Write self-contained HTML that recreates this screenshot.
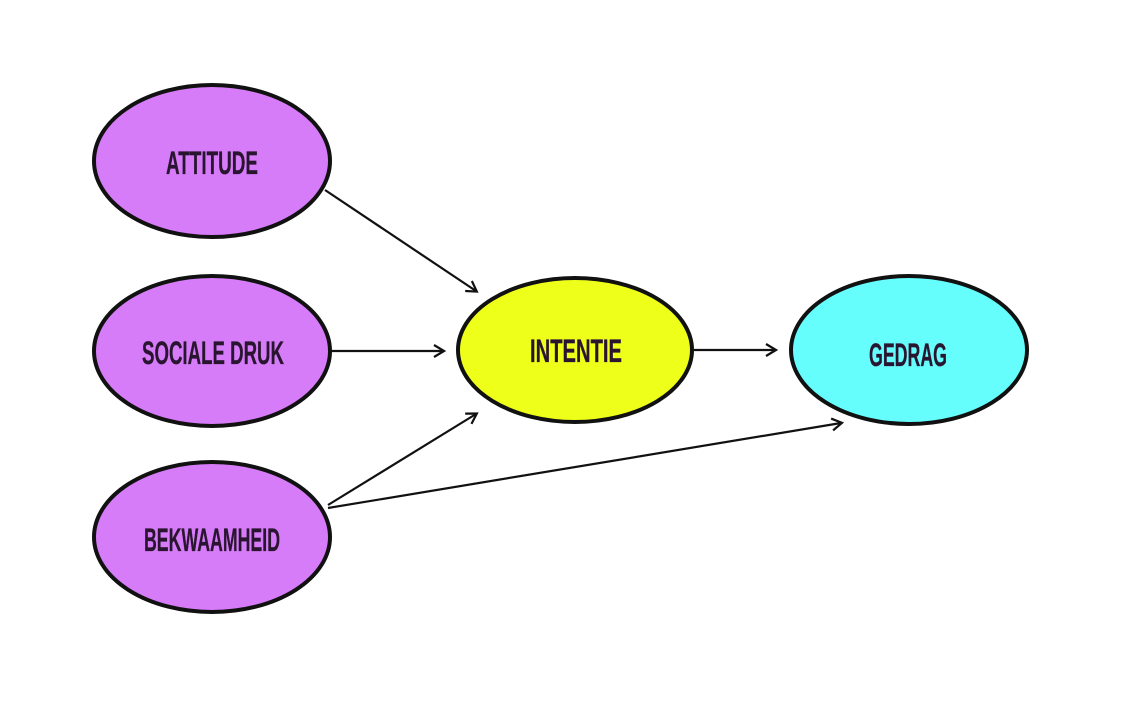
<!DOCTYPE html>
<html><head><style>body{margin:0;background:#fff}svg{display:block}</style></head>
<body>
<svg width="1134" height="701" viewBox="0 0 1134 701" xmlns="http://www.w3.org/2000/svg">
<defs><marker id="a" markerWidth="14" markerHeight="14" refX="11" refY="7" orient="auto" markerUnits="userSpaceOnUse"><path d="M2,1 L12,7 L2,13" fill="none" stroke="#111" stroke-width="2.2"/></marker></defs>
<g stroke="#111" stroke-width="2.2" marker-end="url(#a)">
<line x1="325" y1="190" x2="476" y2="291"/>
<line x1="330" y1="351" x2="443" y2="351"/>
<line x1="328" y1="505" x2="476" y2="414"/>
<line x1="328" y1="508" x2="841" y2="423"/>
<line x1="694" y1="350" x2="775" y2="350"/>
</g>
<g stroke="#111" stroke-width="4">
<ellipse cx="212" cy="161" rx="118" ry="76" fill="#d67cf8"/>
<ellipse cx="212" cy="351" rx="118" ry="75" fill="#d67cf8"/>
<ellipse cx="212" cy="537" rx="118" ry="75" fill="#d67cf8"/>
<ellipse cx="575" cy="350" rx="117" ry="72" fill="#eeff1a"/>
<ellipse cx="909" cy="350" rx="118" ry="74" fill="#66fdfd"/>
</g>
<g font-family="Liberation Sans, sans-serif" font-weight="bold" font-size="32" fill="#2a1530" stroke="#2a1530" stroke-width="0.3" text-anchor="middle">
<text x="212" y="174" textLength="92" lengthAdjust="spacingAndGlyphs">ATTITUDE</text>
<text x="213" y="364" textLength="142" lengthAdjust="spacingAndGlyphs">SOCIALE DRUK</text>
<text x="212" y="551" textLength="136" lengthAdjust="spacingAndGlyphs">BEKWAAMHEID</text>
<text x="576" y="362" textLength="92" lengthAdjust="spacingAndGlyphs">INTENTIE</text>
<text x="908" y="366" textLength="78" lengthAdjust="spacingAndGlyphs">GEDRAG</text>
</g>
</svg>
</body></html>
